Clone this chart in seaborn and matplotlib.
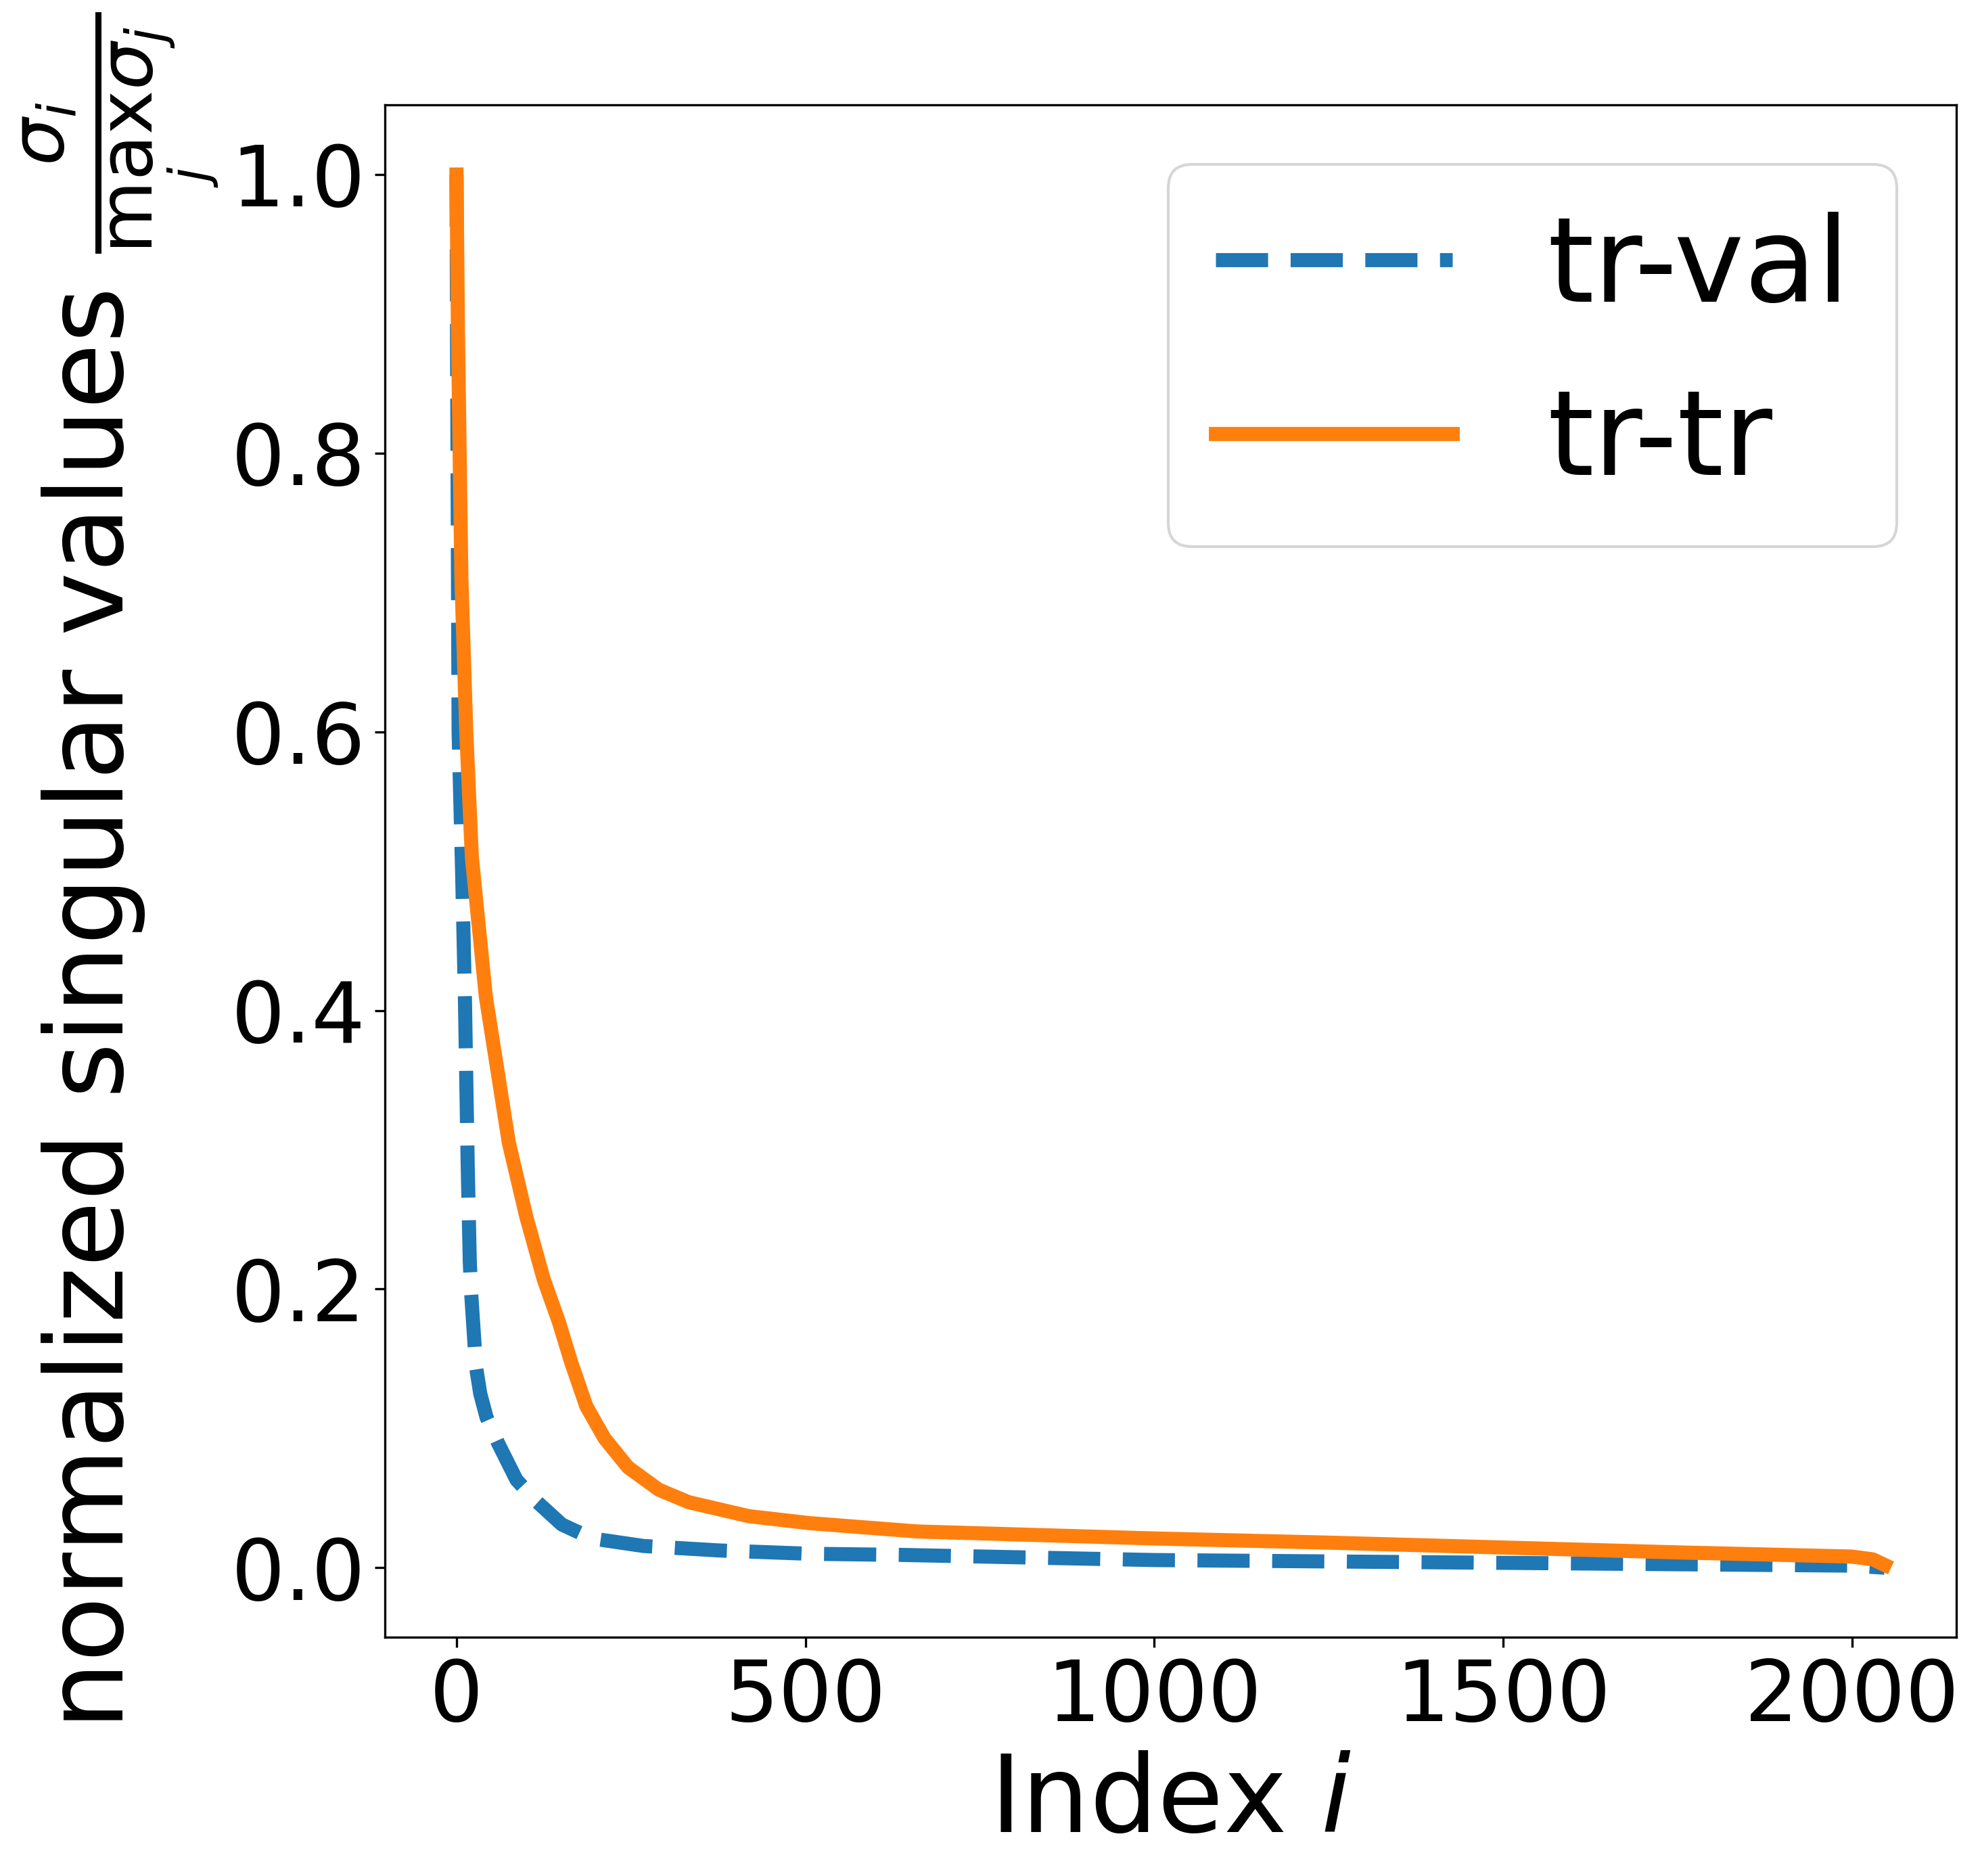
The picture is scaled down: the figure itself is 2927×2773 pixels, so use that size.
import matplotlib
matplotlib.use("Agg")
import matplotlib.pyplot as plt
import seaborn as sns

# singular value spectra (index, normalized value)
tr_val_idx = [0, 1, 3, 8, 12, 16, 19, 21, 28, 34, 43, 60, 86, 116, 151, 194, 268, 376, 506, 636,
              1000, 1500, 2000, 2047]
tr_val_sv = [1.0, 0.85, 0.6, 0.5, 0.41, 0.29, 0.22, 0.197, 0.144, 0.125, 0.108, 0.089, 0.063, 0.047,
             0.031, 0.021, 0.0156, 0.0124, 0.010, 0.0092, 0.0055, 0.0035, 0.0015, 0.0]

tr_tr_idx = [0, 2, 7, 14, 22, 42, 75, 100, 125, 147, 164, 186, 212, 246, 290, 333, 419, 506, 661,
             1000, 1250, 1500, 1750, 2000, 2030, 2047]
tr_tr_sv = [1.0, 0.89, 0.71, 0.60, 0.51, 0.41, 0.305, 0.252, 0.207, 0.176, 0.148, 0.116, 0.093, 0.072,
            0.056, 0.047, 0.037, 0.032, 0.026, 0.021, 0.018, 0.0145, 0.011, 0.008, 0.006, 0.002]

fig = plt.figure(figsize=(2927 / 300, 2773 / 300), dpi=300)
ax = fig.add_axes([0.1945, 0.1272, 0.9879 - 0.1945, 0.9441 - 0.1272])

sns.lineplot(x=tr_val_idx, y=tr_val_sv, ax=ax, color="C0", linestyle="--", linewidth=5, label="tr-val")
sns.lineplot(x=tr_tr_idx, y=tr_tr_sv, ax=ax, color="C1", linestyle="-", linewidth=5, label="tr-tr")

ax.set_xlabel(r"Index $i$", fontsize=38)
ax.set_ylabel(r"normalized singular values $\frac{\sigma_i}{\max_j \sigma_j}$", fontsize=38)
ax.tick_params(labelsize=30)
ax.set_xticks([0, 500, 1000, 1500, 2000])
ax.set_yticks([0.0, 0.2, 0.4, 0.6, 0.8, 1.0])
ax.legend(loc="upper right", fontsize=42)

fig.savefig("out.png", dpi=300)
